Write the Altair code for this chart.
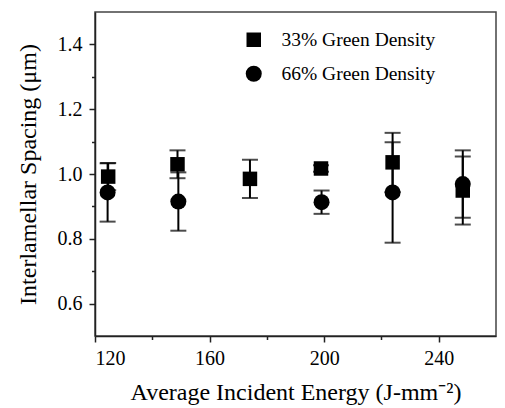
import altair as alt
import pandas as pd

series_names = ["33% Green Density", "66% Green Density"]

x33 = [124.6, 148.8, 174.1, 198.9, 223.9, 248.4]
y33 = [0.992, 1.030, 0.985, 1.017, 1.036, 0.949]
e33 = [0.042, 0.043, 0.059, 0.010, 0.091, 0.105]

x66 = [124.4, 149.1, 199.1, 223.9, 248.4]
y66 = [0.943, 0.915, 0.913, 0.943, 0.969]
e66 = [0.090, 0.090, 0.036, 0.155, 0.104]

x_major = [120, 160, 200, 240]
x_minor = [140, 180, 220]
y_major = [0.6, 0.8, 1.0, 1.2, 1.4]
y_minor = [0.7, 0.9, 1.1, 1.3]

rows = []
for name, xs, ys, es in [(series_names[0], x33, y33, e33), (series_names[1], x66, y66, e66)]:
    for xv, yv, ev in zip(xs, ys, es):
        rows.append({"series": name, "x": xv, "y": yv, "lo": yv - ev, "hi": yv + ev})
df = pd.DataFrame(rows)

caps = pd.concat([
    df[["series", "x", "lo"]].rename(columns={"lo": "c"}),
    df[["series", "x", "hi"]].rename(columns={"hi": "c"}),
])

FONT = "Liberation Serif, Times New Roman, serif"
xscale = alt.Scale(domain=[120, 260], nice=False, zero=False)
yscale = alt.Scale(domain=[0.5, 1.5], nice=False, zero=False)

major_x = alt.Axis(values=x_major, orient="bottom", tickSize=6, tickWidth=1.5, labelPadding=6,
                   labelFontSize=20, labelFont=FONT, labelColor="black", titleFont=FONT,
                   titleFontSize=24, titleFontWeight="normal", titleColor="black", titlePadding=12,
                   domainColor="#222", domainWidth=1.5, tickColor="#222", grid=False, format="d")
major_y = alt.Axis(values=y_major, orient="left", tickSize=6, tickWidth=1.5, labelPadding=7,
                   labelFontSize=20, labelFont=FONT, labelColor="black", titleFont=FONT,
                   titleFontSize=24, titleFontWeight="normal", titleColor="black", titlePadding=17,
                   domainColor="#222", domainWidth=1.5, tickColor="#222", grid=False, format=".1f")
minor_x = alt.Axis(values=x_minor, orient="bottom", tickSize=3.5, tickWidth=1.5, labels=False,
                   domain=False, title=None, grid=False, tickColor="#222")
minor_y = alt.Axis(values=y_minor, orient="left", tickSize=3.5, tickWidth=1.5, labels=False,
                   domain=False, title=None, grid=False, tickColor="#222")

bars = alt.Chart(df).mark_rule(color="black", strokeWidth=2).encode(
    x=alt.X("x:Q", scale=xscale, axis=minor_x),
    y=alt.Y("lo:Q", scale=yscale, axis=minor_y),
    y2="hi:Q",
)

capmarks = alt.Chart(caps).mark_tick(color="black", orient="horizontal", size=16, thickness=2).encode(
    x=alt.X("x:Q", scale=xscale, axis=None),
    y=alt.Y("c:Q", scale=yscale, axis=None),
)

leg = alt.Legend(title=None, orient="none", legendX=149, legendY=18,
                 labelFont=FONT, labelFontSize=19.5, labelColor="black",
                 labelOffset=18, rowPadding=13, padding=0,
                 symbolFillColor="black", symbolStrokeWidth=0)

points = alt.Chart(df).mark_point(filled=True, opacity=1, color="black", strokeWidth=0).encode(
    x=alt.X("x:Q", scale=xscale, axis=major_x, title="Average Incident Energy (J-mm⁻²)"),
    y=alt.Y("y:Q", scale=yscale, axis=major_y, title="Interlamellar Spacing (μm)"),
    shape=alt.Shape("series:N", scale=alt.Scale(domain=series_names, range=["square", "circle"]),
                    legend=leg),
    size=alt.Size("series:N", scale=alt.Scale(domain=series_names, range=[210, 256]),
                  legend=leg),
)

chart = alt.layer(bars, capmarks, points).resolve_axis(x="independent", y="independent").properties(
    width=401, height=324,
    autosize=alt.AutoSizeParams(type="none"),
    padding={"left": 87, "top": 4, "right": 1, "bottom": 72},
).configure(font=FONT, background="white").configure_view(
    stroke="#444", strokeWidth=1.5
).configure_axis(labelFont=FONT, titleFont=FONT).configure_legend(labelFont=FONT)

chart.save("out.html", embed_options={"renderer": "svg", "actions": False})
